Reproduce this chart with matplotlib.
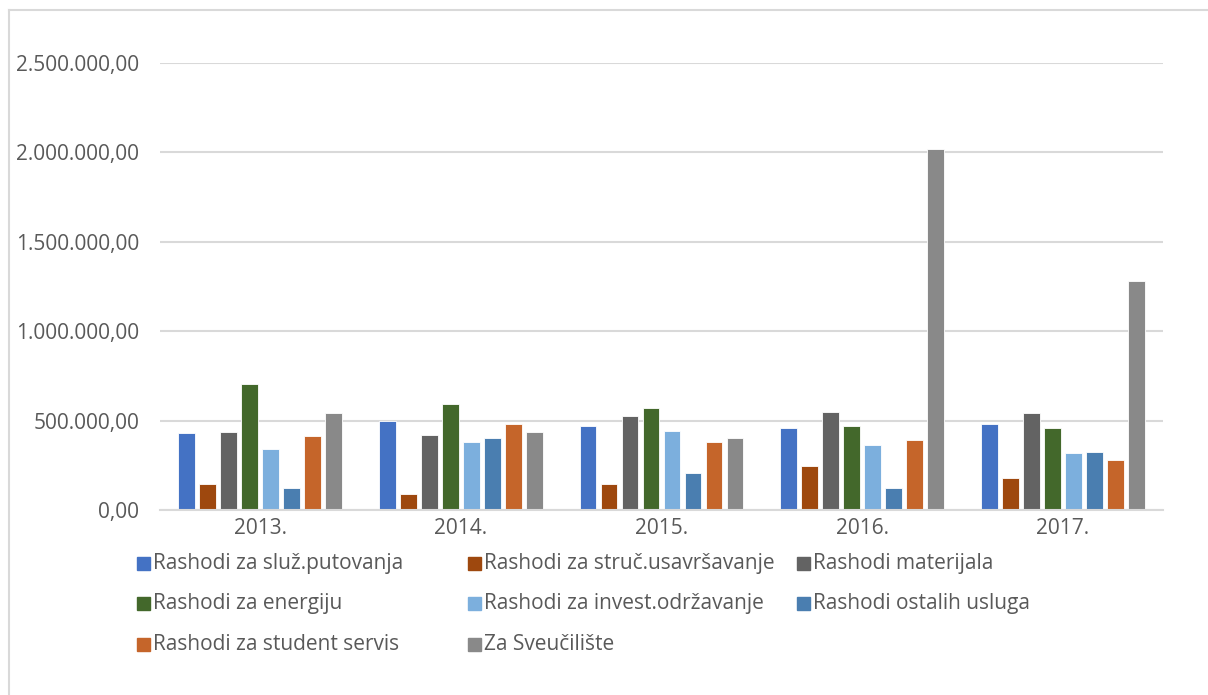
import matplotlib
matplotlib.use("Agg")
import matplotlib.pyplot as plt
import numpy as np
from matplotlib.ticker import FuncFormatter, MultipleLocator
from matplotlib.patches import Rectangle
from matplotlib.lines import Line2D

# --- podaci ---
godine = ["2013.", "2014.", "2015.", "2016.", "2017."]
serije = [
    "Rashodi za služ.putovanja",
    "Rashodi za struč.usavršavanje",
    "Rashodi materijala",
    "Rashodi za energiju",
    "Rashodi za invest.održavanje",
    "Rashodi ostalih usluga",
    "Rashodi za student servis",
    "Za Sveučilište",
]
sluz_putovanja = [429000, 500000, 470000, 459000, 481000]
struc_usavrsavanje = [144000, 88000, 147000, 248000, 180000]
materijal = [437000, 422000, 528000, 550000, 543000]
energija = [704000, 592000, 569000, 472000, 461000]
invest_odrzavanje = [341000, 382000, 442000, 364000, 316000]
ostale_usluge = [121000, 403000, 207000, 123000, 326000]
student_servis = [416000, 481000, 381000, 392000, 277000]
sveuciliste = [541000, 437000, 405000, 2017000, 1283000]

vrijednosti = [sluz_putovanja, struc_usavrsavanje, materijal, energija,
               invest_odrzavanje, ostale_usluge, student_servis, sveuciliste]
boje = ["#4472C4", "#9E480E", "#636363", "#43682B",
        "#7CAFDD", "#4A7EB0", "#C5652A", "#898989"]

TEKST = "#595959"
MREZA = "#D9D9D9"
FS = 15
plt.rcParams["font.family"] = ["Open Sans", "DejaVu Sans"]
plt.rcParams["font.size"] = FS

fig = plt.figure(figsize=(12.08, 6.95), dpi=100)
ax = fig.add_axes([160 / 1208, 1 - 510 / 695, (1163 - 160) / 1208, (510 - 63) / 695])

x = np.arange(len(godine))
korak = 0.1047
sirina = 0.083
for i, (vals, boja) in enumerate(zip(vrijednosti, boje)):
    ax.bar(x + (i - 3.5) * korak, vals, width=sirina, color=boja,
           edgecolor="white", linewidth=0.6, zorder=3)

ax.set_xlim(-0.5, len(godine) - 0.5)
ax.set_ylim(0, 2500000)
ax.yaxis.set_major_locator(MultipleLocator(500000))


def hr_format(v, pos):
    s = f"{v:,.2f}"
    return s.replace(",", "X").replace(".", ",").replace("X", ".")


ax.yaxis.set_major_formatter(FuncFormatter(hr_format))
ax.set_xticks(x)
ax.set_xticklabels(godine)
ax.tick_params(axis="y", length=0, pad=15, colors=TEKST, labelsize=FS)
ax.tick_params(axis="x", length=0, pad=6, colors=TEKST, labelsize=FS)
ax.grid(axis="y", color=MREZA, linewidth=1.5, zorder=0)
for s in ["top", "right", "left"]:
    ax.spines[s].set_visible(False)
ax.spines["bottom"].set_color(MREZA)
ax.spines["bottom"].set_linewidth(1.5)
ax.spines["bottom"].set_zorder(4)

# legenda (3 stupca, jednake sirine kao u Excelu)
stupci_x = [137, 468, 797]
redovi_y = [563, 603, 644]
for i, (naziv, boja) in enumerate(zip(serije, boje)):
    px = stupci_x[i % 3]
    py = redovi_y[i // 3]
    fig.add_artist(Rectangle((px / 1208, 1 - (py + 6.5) / 695), 13 / 1208, 13 / 695,
                             transform=fig.transFigure, color=boja))
    fig.text((px + 16) / 1208, 1 - py / 695, naziv, color=TEKST, fontsize=FS,
             va="center", ha="left")

# okvir grafikona
fig.add_artist(Line2D([9 / 1208, 1], [1 - 10 / 695] * 2, transform=fig.transFigure,
                      color=MREZA, linewidth=1.5))
fig.add_artist(Line2D([9 / 1208] * 2, [0, 1 - 10 / 695], transform=fig.transFigure,
                      color=MREZA, linewidth=1.5))

fig.savefig("out.png", dpi=100)
